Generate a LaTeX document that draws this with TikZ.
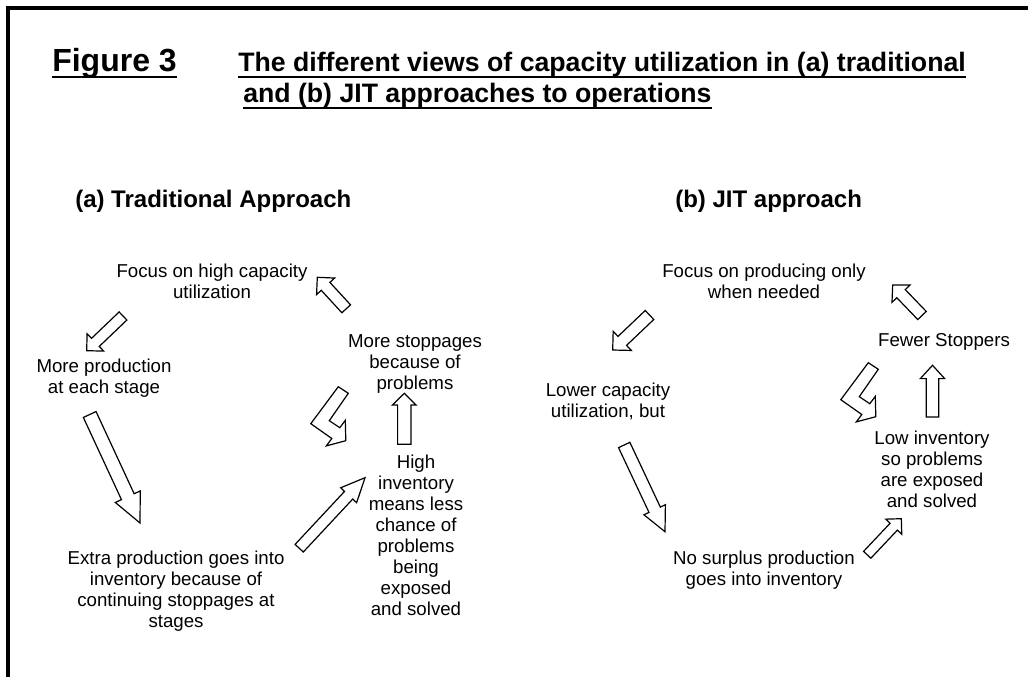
\documentclass[tikz,border=0pt]{standalone}
\usepackage{fontspec}
\setmainfont{Liberation Sans}
\usetikzlibrary{calc,positioning}
\tikzset{
    txt/.style={align=center, inner sep=0pt, anchor=north, font=\fontsize{14}{15.75}\selectfont},
    head/.style={inner sep=0pt, anchor=base west, font=\bfseries\fontsize{20}{24}\selectfont},
    subhead/.style={inner sep=0pt, anchor=base west, font=\bfseries\fontsize{18}{21}\selectfont},
    uline/.style={line width=1.7pt},
    blockline/.style={draw=black, fill=white, line width=0.9pt, line join=miter}
}
% tail, tip, half shaft, half head, head length
\newcommand{\blockarrow}[5]{%
    \coordinate (h) at ($(#2)!#5!(#1)$);
    \draw[blockline] ($(#1)!#3!90:(#2)$) -- ($(h)!#3!90:(#2)$) -- ($(h)!#4!90:(#2)$) -- (#2)
        -- ($(h)!#4!-90:(#2)$) -- ($(h)!#3!-90:(#2)$) -- ($(#1)!#3!-90:(#2)$) -- cycle;
}

\begin{document}
\begin{tikzpicture}[x=0.75pt,y=-0.75pt]
    \useasboundingbox (0,0) rectangle (1028,677);
    \draw[line width=3pt] (8,677) -- (8,8) -- (1028,8);

    \node [head, font=\bfseries\fontsize{24}{28}\selectfont] (fig) at (52,72) {Figure 3};
    \node [head] (ttl1) at (238,72) {The different views of capacity utilization in (a) traditional};
    \node [head] (ttl2) at (243,103) {and (b) JIT approaches to operations};
    \draw[uline] ([yshift=-4pt]fig.base west) -- ([yshift=-4pt]fig.base east);
    \draw[uline] ([yshift=-4pt]ttl1.base west) -- ([yshift=-4pt]ttl1.base east);
    \draw[uline] ([yshift=-4pt]ttl2.base west) -- ([yshift=-4pt]ttl2.base east);

    \node [subhead] (trad) at (75,208) {(a) Traditional Approach};
    \node [subhead] (jit) at (675,208) {(b) JIT approach};

    % (a)
    \node [txt] (focA) at (212,263.6) {Focus on high capacity\\utilization};
    \node [txt] (prodA) at (104,358.6) {More production\\at each stage};
    \node [txt] (stopA) at (415,334.6) {More stoppages\\because of\\problems};
    \node [txt] (invA) at (416,454.6) {High\\inventory\\means less\\chance of\\problems\\being\\exposed\\and solved};
    \node [txt] (extraA) at (176,550.6) {Extra production goes into\\inventory because of\\continuing stoppages at\\stages};

    \coordinate (a1s) at (123,316);     \coordinate (a1e) at (86.7,350.7);
    \coordinate (a2s) at (89.7,414.5);  \coordinate (a2e) at (140,523);
    \coordinate (a3s) at (299.2,548.2); \coordinate (a3e) at (365,477.7);
    \coordinate (a4s) at (404.3,444.3); \coordinate (a4e) at (404.3,393.3);
    \coordinate (a5s) at (346.2,308.8); \coordinate (a5e) at (317.3,277.3);
    \coordinate (bendA) at (338.3,386.7);

    \blockarrow{a1s}{a1e}{4.2pt}{9pt}{9pt}
    \blockarrow{a2s}{a2e}{5.25pt}{10.3pt}{21.75pt}
    \blockarrow{a3s}{a3e}{4.2pt}{8.2pt}{18pt}
    \blockarrow{a4s}{a4e}{5pt}{8.85pt}{8.8pt}
    \blockarrow{a5s}{a5e}{4.4pt}{9.2pt}{9.2pt}
    \draw[blockline, shift={(bendA)}] (0,0) -- (10,6.6) -- (-9,34) -- (1.5,41) -- (7,33.7) -- (7.5,54)
        -- (-12,59.2) -- (-6.5,51.8) -- (-27.5,37) -- cycle;

    % (b)
    \node [txt] (focB) at (764,263.6) {Focus on producing only\\when needed};
    \node [txt] (lowB) at (608,382.6) {Lower capacity\\utilization, but};
    \node [txt] (fewB) at (944,333.6) {Fewer Stoppers};
    \node [txt] (invB) at (932,430.6) {Low inventory\\so problems\\are exposed\\and solved};
    \node [txt] (surB) at (764,550.6) {No surplus production\\goes into inventory};

    \coordinate (b1s) at (649.5,315);   \coordinate (b1e) at (612.7,350);
    \coordinate (b2s) at (624.2,445);   \coordinate (b2e) at (665,531.7);
    \coordinate (b3s) at (867.2,554.8); \coordinate (b3e) at (901.3,518.7);
    \coordinate (b4s) at (932.5,417);   \coordinate (b4e) at (932.5,365.3);
    \coordinate (b5s) at (922,315.5);   \coordinate (b5e) at (892.7,285);
    \coordinate (bendB) at (868.3,362.7);

    \blockarrow{b1s}{b1e}{4.65pt}{9.9pt}{9.9pt}
    \blockarrow{b2s}{b2e}{4.7pt}{8.9pt}{18.2pt}
    \blockarrow{b3s}{b3e}{3.75pt}{8.25pt}{8.25pt}
    \blockarrow{b4s}{b4e}{4.65pt}{9.15pt}{10pt}
    \blockarrow{b5s}{b5e}{4.4pt}{9.4pt}{9pt}
    \draw[blockline, shift={(bendB)}] (0,0) -- (10,6.6) -- (-9,34) -- (1.5,41) -- (7,33.7) -- (7.5,54)
        -- (-12,59.2) -- (-6.5,51.8) -- (-27.5,37) -- cycle;
\end{tikzpicture}
\end{document}
